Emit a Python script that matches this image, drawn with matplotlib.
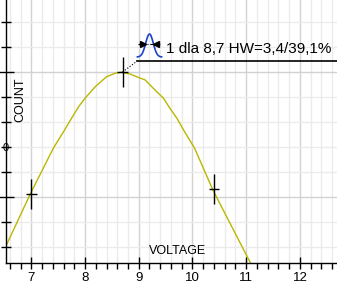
import numpy as np
import matplotlib.pyplot as plt
from matplotlib.ticker import MultipleLocator

plt.rcParams['font.family'] = ['Liberation Sans', 'DejaVu Sans']

# fitted curve (voltage, count)
curve_x = [6.52, 6.99, 7.41, 7.60, 7.75, 7.88, 8.00, 8.19, 8.40, 8.56, 8.68,
           8.84, 8.96, 9.12, 9.27, 9.46, 9.58, 9.71, 9.87, 10.04, 10.38, 11.08]
curve_y = [30.0, 51.6, 69.5, 76.1, 81.5, 86.1, 89.5, 94.1, 98.1, 99.5, 99.9,
           99.2, 98.1, 96.8, 93.5, 89.5, 85.5, 81.5, 75.5, 69.5, 52.8, 23.6]

# marked points (half maximum left, peak, half maximum right)
mark_x = [7.0, 8.7, 10.4]
mark_y = [51.2, 100.0, 53.2]

peak_label = '1 dla 8,7 HW=3,4/39,1%'
x_ticks = [7, 8, 9, 10, 11, 12]

fig = plt.figure(figsize=(3.37, 2.85), dpi=100)
ax = fig.add_axes([5.5 / 337, 22 / 285, 1 - 5.5 / 337, 1 - 22 / 285])
ax.set_xlim(6.52, 12.69)
ax.set_ylim(23.6, 128.8)

# grid: light every minor step, darker on majors
ax.xaxis.set_major_locator(MultipleLocator(1))
ax.xaxis.set_minor_locator(MultipleLocator(0.2))
ax.yaxis.set_major_locator(MultipleLocator(50))
ax.yaxis.set_minor_locator(MultipleLocator(10))
ax.grid(which='minor', color='#ebebeb', lw=1)
ax.grid(which='major', color='#d2d2d2', lw=1)
ax.set_axisbelow(True)

for s in ['top', 'right']:
    ax.spines[s].set_visible(False)
for s in ['left', 'bottom']:
    ax.spines[s].set_color('black')
    ax.spines[s].set_linewidth(1)

ax.set_xticks(x_ticks)
ax.set_xticklabels([str(t) for t in x_ticks])
ax.tick_params(axis='x', which='major', direction='inout', length=9, width=1,
               labelsize=9.5, pad=2)
ax.tick_params(axis='x', which='minor', direction='out', length=4, width=1)
ax.tick_params(axis='y', which='both', direction='inout', length=7, width=1,
               labelleft=False)
ax.tick_params(axis='y', which='major', length=11)

ax.plot(curve_x, curve_y, color='#b8b800', lw=1)
ax.errorbar(mark_x, mark_y, xerr=0.1, yerr=6, fmt='none', ecolor='black',
            elinewidth=1, capsize=0)

# pointer from the peak to the label
ax.plot([mark_x[1], 8.97], [mark_y[1], 104.4], color='black', lw=0.8, ls=':')
ax.plot([8.97, 12.69], [104.4, 104.4], color='black', lw=1.2, clip_on=False)
ax.text(9.51, 107.6, peak_label, fontsize=11, va='baseline', ha='left')

# small peak glyph with half-width arrows
gx = np.linspace(-0.225, 0.225, 40)
ax.plot(9.2 + gx, 106 + 9.2 * np.exp(-0.5 * (gx / 0.07) ** 2), color='#1a44c8', lw=1.2)
ax.plot([8.99, 9.40], [111.2, 111.2], color='black', lw=0.8, ls='-.')
ax.plot([9.08], [111.2], marker='>', color='black', ms=4)
ax.plot([9.32], [111.2], marker='<', color='black', ms=4)

ax.text(9.73, 25.8, 'VOLTAGE', fontsize=9, ha='center', va='bottom')
ax.text(6.79, 89, 'COUNT', fontsize=9, rotation=90, ha='center', va='center')
fig.text(8.5 / 337, 1 - 148 / 285, '0', fontsize=8, ha='right', va='center')

fig.savefig('out.png', dpi=100)
